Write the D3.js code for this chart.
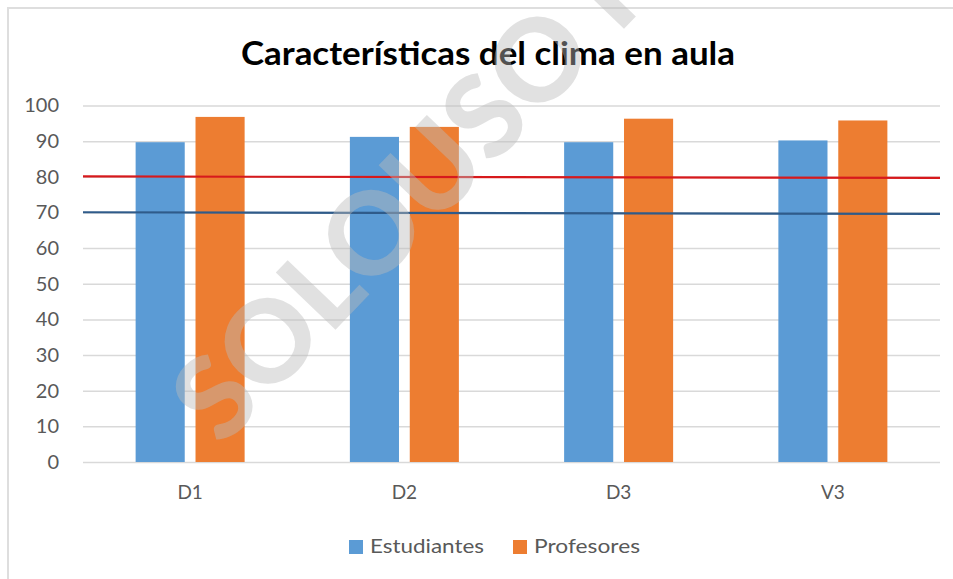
<!DOCTYPE html>
<html>
<head>
<meta charset="utf-8">
<script src="https://cdn.jsdelivr.net/npm/d3@7"></script>
<style>
  body { margin: 0; background: #fff; }
  svg { display: block; }
</style>
</head>
<body>
<div id="chart"></div>
<script>
const categories = ['D1', 'D2', 'D3', 'V3'];
const series = ['Estudiantes', 'Profesores'];
const estudiantes = [89.7, 91.2, 89.7, 90.2];
const profesores = [96.8, 94.0, 96.3, 95.8];
const yTicks = [0, 10, 20, 30, 40, 50, 60, 70, 80, 90, 100];
// reference lines, drawn by hand so they sag a touch to the right
const refLines = [
  { name: 'meta80', from: 80.1, to: 79.7, color: '#d7191c' },
  { name: 'meta70', from: 70.05, to: 69.6, color: '#2f5b8a' }
];

const W = 953, H = 579;
const colors = { Estudiantes: '#5b9bd5', Profesores: '#ed7d31' };
const font = 'Lato, "Open Sans", sans-serif';
const plot = { left: 83, right: 940, top: 105.5, bottom: 462 };

const svg = d3.select('#chart').append('svg')
  .attr('width', W)
  .attr('height', H);

// frame
svg.append('path')
  .attr('d', `M8,${H} V8 H${W}`)
  .attr('fill', 'none')
  .attr('stroke', '#dedede')
  .attr('stroke-width', 2);

const x0 = d3.scaleBand().domain(categories).range([plot.left, plot.right]);
const half = 54.5;
const x1 = d3.scaleBand().domain(series)
  .range([x0.bandwidth() / 2 - half, x0.bandwidth() / 2 + half])
  .paddingInner(0.18);
const y = d3.scaleLinear().domain([0, 100]).range([plot.bottom, plot.top]);

// gridlines + y labels
const yAxis = svg.append('g')
  .attr('transform', `translate(${plot.left},0)`)
  .call(d3.axisLeft(y).tickValues(yTicks).tickSize(-(plot.right - plot.left)).tickPadding(24));
yAxis.select('.domain').remove();
yAxis.selectAll('.tick line').attr('stroke', '#d9d9d9').attr('stroke-width', 1.5);
yAxis.selectAll('.tick text')
  .attr('fill', '#595959')
  .style('font-family', font)
  .style('font-size', '20px');

// x labels
const xAxis = svg.append('g')
  .attr('transform', `translate(0,${plot.bottom})`)
  .call(d3.axisBottom(x0).tickSize(0).tickPadding(24));
xAxis.select('.domain').remove();
xAxis.selectAll('.tick text')
  .attr('fill', '#595959')
  .style('font-family', font)
  .style('font-size', '19px');

// bars
const rows = categories.map((c, i) => ({
  cat: c,
  values: [
    { key: 'Estudiantes', v: estudiantes[i] },
    { key: 'Profesores', v: profesores[i] }
  ]
}));

svg.append('g').selectAll('g')
  .data(rows)
  .join('g')
  .attr('transform', d => `translate(${x0(d.cat)},0)`)
  .selectAll('rect')
  .data(d => d.values)
  .join('rect')
  .attr('x', d => x1(d.key))
  .attr('width', x1.bandwidth())
  .attr('y', d => y(d.v))
  .attr('height', d => y(0) - y(d.v))
  .attr('fill', d => colors[d.key]);

// reference lines
svg.append('g').selectAll('line')
  .data(refLines)
  .join('line')
  .attr('x1', plot.left)
  .attr('x2', plot.right)
  .attr('y1', d => y(d.from))
  .attr('y2', d => y(d.to))
  .attr('stroke', d => d.color)
  .attr('stroke-width', 2.2);

// title
svg.append('text')
  .attr('x', 488)
  .attr('y', 65)
  .attr('text-anchor', 'middle')
  .attr('textLength', 494)
  .attr('lengthAdjust', 'spacingAndGlyphs')
  .style('font-family', font)
  .style('font-weight', 700)
  .style('font-size', '32px')
  .attr('fill', '#000')
  .text('Características del clima en aula');

// legend
const legend = svg.append('g').attr('transform', 'translate(349,540)');
const legendX = [0, 164];
const legendW = [114, 106];
series.forEach((s, i) => {
  const g = legend.append('g').attr('transform', `translate(${legendX[i]},0)`);
  g.append('rect').attr('width', 14).attr('height', 14).attr('fill', colors[s]);
  g.append('text')
    .attr('x', 21)
    .attr('y', 13)
    .attr('textLength', legendW[i])
    .attr('lengthAdjust', 'spacingAndGlyphs')
    .attr('fill', '#595959')
    .style('font-family', font)
    .style('font-size', '20px')
    .text(s);
});

// watermark
svg.append('text')
  .attr('transform', 'translate(222,448) rotate(-46.2)')
  .attr('fill', 'rgb(187,187,187)')
  .attr('fill-opacity', 0.44)
  .style('font-family', font)
  .style('font-weight', 900)
  .style('font-size', '114px')
  .text('SOLOUSO P');
</script>
</body>
</html>
